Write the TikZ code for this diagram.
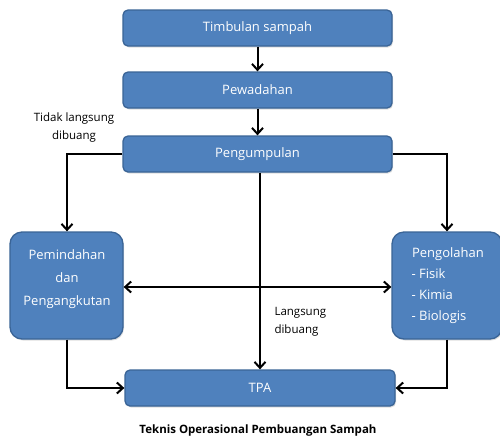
\documentclass[tikz,border=0pt]{standalone}
\usepackage{fontspec}
\setmainfont{Open Sans}
\usetikzlibrary{arrows.meta,shadows}
\definecolor{boxfill}{HTML}{4F81BD}
\definecolor{boxline}{HTML}{3A6496}
\begin{document}
\begin{tikzpicture}[x=1pt,y=-1pt,
  tip/.tip={Straight Barb[length=6pt,width=11pt,line width=2pt]},
  box/.style={draw=boxline,line width=1.3pt,fill=boxfill,rounded corners=5pt,text=white,
    font=\fontsize{13}{16}\selectfont,drop shadow={shadow xshift=1pt,shadow yshift=-1.5pt,opacity=0.25}},
  bigbox/.style={box,rounded corners=12pt},
  conn/.style={line width=2pt,-tip},
  lbl/.style={font=\fontsize{11.5}{14}\selectfont,align=center},
  inbox/.style={font=\fontsize{13}{16}\selectfont,text=white}]
\useasboundingbox (0,0) rectangle (500,440);
\fill[white] (0,0) rectangle (500,440);
\node[box,minimum width=269pt,minimum height=36pt] (timb) at (257.5,28) {Timbulan sampah};
\node[box,minimum width=269pt,minimum height=36pt] (pewa) at (257.5,90) {Pewadahan};
\node[box,minimum width=269pt,minimum height=36pt] (peng) at (257.5,154) {Pengumpulan};
\node[bigbox,minimum width=113pt,minimum height=107pt] (pemi) at (66.5,285.5) {};
\node[bigbox,minimum width=110pt,minimum height=107pt] (olah) at (447,285.5) {};
\node[box,minimum width=270pt,minimum height=36pt] (tpa) at (260,388) {TPA};
\node[inbox,align=center] (pemit) at (67,279) {Pemindahan\\[7pt]dan\\[7pt]Pengangkutan};
\node[inbox] (olaht) at (448,254) {Pengolahan};
\node[inbox,anchor=west,align=left] (olahl) at (408,296) {- Fisik\\[5pt]- Kimia\\[5pt]- Biologis};
\node[lbl] (tidak) at (74,128) {Tidak langsung\\[4pt]dibuang};
\node[lbl,anchor=west,align=left] (lang) at (271,322) {Langsung\\[4pt]dibuang};
\node[font=\fontsize{11.5}{14}\selectfont\bfseries] (cap) at (258,431) {Teknis Operasional Pembuangan Sampah};
\coordinate (cl) at (67,154);
\coordinate (cr) at (447,154);
\coordinate (bl) at (67,388);
\coordinate (br) at (447,388);
\draw[conn] (timb) -- (pewa);
\draw[conn] (pewa) -- (peng);
\draw[conn] (peng.west) -- (cl) -- (pemi.north -| cl);
\draw[conn] (peng.east) -- (cr) -- (olah.north -| cr);
\draw[conn] (peng.south -| tpa.north) -- (tpa.north);
\draw[line width=2pt,tip-tip] (pemi.east |- 0,287) -- (olah.west |- 0,287);
\draw[conn] (pemi.south -| bl) -- (bl) -- (tpa.west);
\draw[conn] (olah.south -| br) -- (br) -- (tpa.east);
\end{tikzpicture}
\end{document}
